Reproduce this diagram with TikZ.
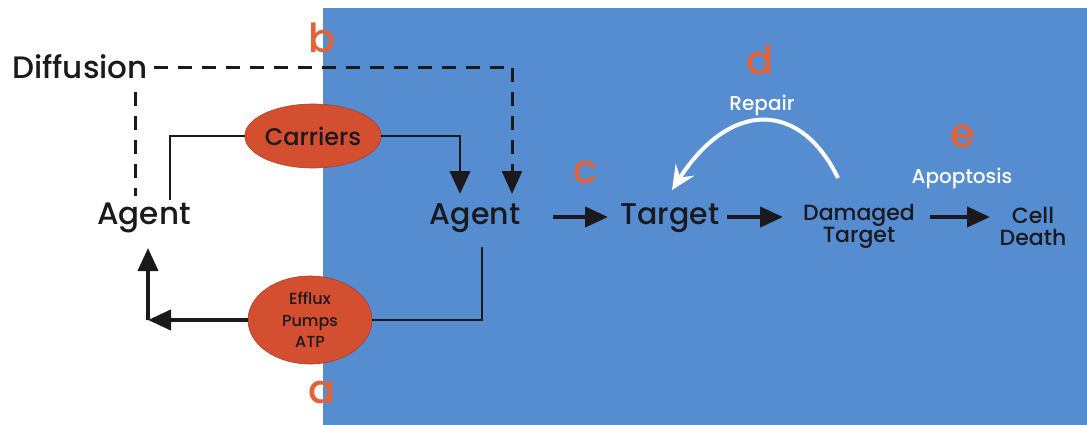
\documentclass[tikz,border=0pt]{standalone}
\usepackage{fontspec}
\setmainfont{Poppins}[UprightFont={* Medium}]
\usetikzlibrary{arrows.meta,shapes.geometric}
\definecolor{bgblue}{RGB}{86,141,208}
\definecolor{ovalred}{RGB}{212,78,48}
\definecolor{lblor}{RGB}{228,98,56}
\definecolor{ink}{RGB}{25,25,30}
\newcommand{\fs}[1]{\fontsize{#1}{#1}\selectfont}
\tikzset{
  txt/.style={inner sep=0pt, text=ink, align=center},
  oval/.style={ellipse, fill=ovalred, draw=ovalred!80!black, line width=0.6pt, inner sep=0pt, text=ink, align=center},
  letter/.style={inner sep=0pt, text=lblor, font=\fs{40}},
  wlabel/.style={inner sep=0pt, text=white, font=\fs{20}},
  thin/.style={draw=ink, line width=2.4pt},
  thick/.style={draw=ink, line width=4pt},
  dsh/.style={draw=ink, line width=3pt, dash pattern=on 14pt off 10pt},
  tip/.style={-{Triangle[length=23pt,width=20pt]}},
}
\begin{document}
\begin{tikzpicture}[x=1pt,y=-1pt]
\useasboundingbox (0,0) rectangle (1087,425);
\fill[bgblue] (323,8) rectangle (1087,425);
% nodes
\node[txt,font=\fs{31}] (diff) at (80,67) {Diffusion};
\node[txt,font=\fs{31}] (agL) at (144,218) {Agent};
\node[txt,font=\fs{30}] (agR) at (475,218) {Agent};
\node[oval,minimum width=126pt,minimum height=64pt,font=\fs{24}] (car) at (313,136) {Carriers};
\node[oval,minimum width=124pt,minimum height=88pt,font=\fs{16}\linespread{1.35}\selectfont] (eff) at (310,320) {Efflux\\Pumps\\ATP};
\node[txt,font=\fs{30}] (tgt) at (670,218) {Target};
\node[txt,font=\fs{22}] (dmg) at (859,226) {Damaged\\Target};
\node[txt,font=\fs{22}] (cell) at (1033,226) {Cell\\Death};
\node[letter] (lb) at (322,38) {b};
\node[letter] (la) at (322,392) {a};
\node[letter] (lc) at (585,172) {c};
\node[letter] (ld) at (760,60) {d};
\node[letter] (le) at (963,136) {e};
\node[wlabel] (rep) at (762,105) {Repair};
\node[wlabel] (apo) at (962,178) {Apoptosis};
% coordinates
\coordinate (dcorner) at (512,68);
\coordinate (dend) at (512,194);
\coordinate (ldtop) at (135,92);
\coordinate (ldbot) at (135,196);
\coordinate (cstart) at (170,200);
\coordinate (cbend) at (460,172);
\coordinate (cend) at (460,194);
\coordinate (estart) at (482,247);
\coordinate (ecorner) at (148,320);
\coordinate (eup) at (148,248);
\coordinate (a1s) at (553,217);
\coordinate (a1e) at (608,217);
\coordinate (a2s) at (727,217);
\coordinate (a2e) at (783,217);
\coordinate (a3s) at (930,217);
\coordinate (a3e) at (990,217);
\coordinate (rstart) at (838,178);
\coordinate (rend) at (672,190);
% connectors
\draw[dsh] (diff.east) ++(6pt,-1pt) -- (dcorner);
\draw[dsh,tip] (dcorner) -- (dend);
\draw[dsh] (ldtop) -- (ldbot);
\draw[thin] (cstart) |- (car.west);
\draw[thin] (car.east) -| (cbend);
\draw[thick,tip] (cbend) -- (cend);
\draw[thin] (estart) |- (eff.east);
\draw[thick,tip] (eff.west) -- (ecorner);
\draw[thick,tip] (ecorner) -- (eup);
\draw[thick,tip] (a1s) -- (a1e);
\draw[thick,tip] (a2s) -- (a2e);
\draw[thick,tip] (a3s) -- (a3e);
\draw[white,line width=4pt,-{Stealth[length=24pt,width=22pt,inset=9pt]}] (rstart) .. controls (800,100) and (730,100) .. (rend);
\end{tikzpicture}
\end{document}
